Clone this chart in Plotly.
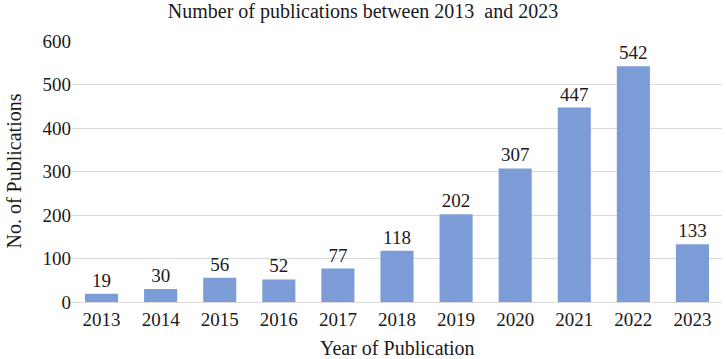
import plotly.graph_objects as go

years = ["2013", "2014", "2015", "2016", "2017", "2018", "2019", "2020", "2021", "2022", "2023"]
counts = [19, 30, 56, 52, 77, 118, 202, 307, 447, 542, 133]
y_ticks = [0, 100, 200, 300, 400, 500, 600]

FF = "Liberation Serif, Times New Roman, serif"
TXT = "#1a1a1a"

fig = go.Figure(go.Bar(
    x=years, y=counts,
    marker=dict(color="#7b9cd7", line=dict(width=0)),
    text=[str(c) for c in counts],
    textposition="outside",
    textfont=dict(family=FF, size=19, color=TXT),
    cliponaxis=False,
))

L, R, T, B = 72, 4, 41, 57
W, H = 726, 359
pw, ph = W - L - R, H - T - B

fig.update_layout(
    width=W, height=H,
    margin=dict(l=L, r=R, t=T, b=B),
    paper_bgcolor="white", plot_bgcolor="white",
    bargap=0.44,
    font=dict(family=FF, size=19, color=TXT),
    title=dict(text="Number of publications between 2013\u00a0 and 2023",
               x=0.5, xanchor="center", y=0.99, yanchor="top",
               font=dict(family=FF, size=20, color=TXT)),
    showlegend=False,
    annotations=[
        dict(text="No. of Publications", xref="paper", yref="paper",
             x=(13 - L) / pw, y=0.5, xanchor="center", yanchor="middle",
             textangle=-90, showarrow=False,
             font=dict(family=FF, size=20, color=TXT)),
        dict(text="Year of Publication", xref="paper", yref="paper",
             x=0.5, y=-(348 - (T + ph)) / ph, xanchor="center", yanchor="middle",
             showarrow=False,
             font=dict(family=FF, size=20, color=TXT)),
    ],
)
fig.update_xaxes(
    type="category", automargin=False,
    showgrid=False, showline=True, linecolor="#d9d9d9", linewidth=1,
    ticks="",
    tickfont=dict(family=FF, size=19, color=TXT),
)
fig.update_yaxes(
    range=[0, 600], tickvals=y_ticks, automargin=False,
    showgrid=True, gridcolor="#d9d9d9", gridwidth=1,
    zeroline=False, showline=False,
    ticks="", ticksuffix="\u00a0\u00a0",
    tickfont=dict(family=FF, size=19, color=TXT),
)

fig.write_html("out.html", config={"displayModeBar": False},
               post_script="document.body.style.margin='0';document.body.style.overflow='hidden';")
